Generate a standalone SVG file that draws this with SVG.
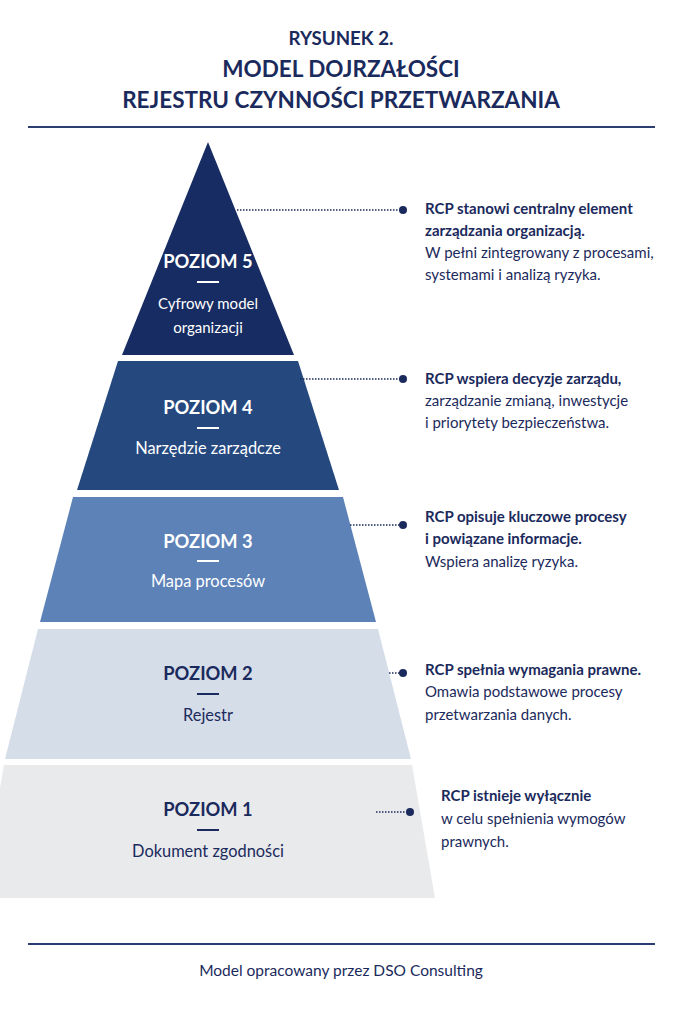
<svg xmlns="http://www.w3.org/2000/svg" width="683" height="1024" viewBox="0 0 683 1024">
<style>
text{font-family:Lato,"Open Sans","Liberation Sans",sans-serif;fill:#1b2a5c}
.t{font-weight:700;text-anchor:middle}
.h{font-weight:700;font-size:18.3px;text-anchor:middle}
.s{font-size:16.4px;text-anchor:middle}
.w{fill:#fff}
.d{font-size:15px}
.b{font-weight:700}
.conn{stroke:#1b2a5c;stroke-width:1.5;stroke-dasharray:1.5 1.5;fill:none}
.dot{fill:#1b2a5c}
.dash{stroke-width:2}
</style>
<rect width="683" height="1024" fill="#fff"/>
<g id="title">
<text class="t" x="341" y="45" font-size="18.7">RYSUNEK 2.</text>
<text class="t" x="341" y="77" font-size="22.5">MODEL DOJRZAŁOŚCI</text>
<text class="t" x="341" y="108" font-size="22.5">REJESTRU CZYNNOŚCI PRZETWARZANIA</text>
<line x1="28" y1="127" x2="655" y2="127" stroke="#2c3e70" stroke-width="2"/>
</g>
<g id="level5">
<polygon points="208,142 294,355 122,355" fill="#172c62"/>
<text class="h w" x="208" y="268">POZIOM 5</text>
<line class="dash" x1="197" y1="282" x2="219" y2="282" stroke="#fff"/>
<text class="w" x="208" y="309" font-size="15" text-anchor="middle">Cyfrowy model</text>
<text class="w" x="208" y="333" font-size="15" text-anchor="middle">organizacji</text>
</g>
<g id="level4">
<polygon points="118,361 298,361 339,490 77,490" fill="#25497f"/>
<text class="h w" x="208" y="414">POZIOM 4</text>
<line class="dash" x1="197" y1="428" x2="219" y2="428" stroke="#fff"/>
<text class="s w" x="208" y="454">Narzędzie zarządcze</text>
</g>
<g id="level3">
<polygon points="73,497 343,497 376,622 40,622" fill="#5c82b8"/>
<text class="h w" x="208" y="548">POZIOM 3</text>
<line class="dash" x1="197" y1="561" x2="219" y2="561" stroke="#fff"/>
<text class="s w" x="208" y="587">Mapa procesów</text>
</g>
<g id="level2">
<polygon points="38,629 378,629 411,759 5,759" fill="#d5dde9"/>
<text class="h" x="208" y="680" font-size="19">POZIOM 2</text>
<line class="dash" x1="197" y1="694" x2="219" y2="694" stroke="#1b2a5c"/>
<text class="s" x="208" y="721">Rejestr</text>
</g>
<g id="level1">
<polygon points="4,765 412,765 435,898 -19,898" fill="#e9eaec"/>
<text class="h" x="208" y="816" font-size="19.5">POZIOM 1</text>
<line class="dash" x1="197" y1="830" x2="219" y2="830" stroke="#1b2a5c"/>
<text class="s" x="208" y="857">Dokument zgodności</text>
</g>
<g id="connectors">
<line class="conn" x1="237" y1="210" x2="400" y2="210"/>
<circle class="dot" cx="403" cy="210" r="4"/>
<line class="conn" x1="300" y1="379" x2="400" y2="379"/>
<circle class="dot" cx="403" cy="379" r="4"/>
<line class="conn" x1="350" y1="525" x2="400" y2="525"/>
<circle class="dot" cx="403" cy="525" r="4"/>
<line class="conn" x1="389" y1="673" x2="400" y2="673"/>
<circle class="dot" cx="403" cy="673" r="4"/>
<line class="conn" x1="376" y1="812" x2="408" y2="812"/>
<circle class="dot" cx="410" cy="812" r="4"/>
</g>
<g id="desc5">
<text class="d b" x="425" y="214">RCP stanowi centralny element</text>
<text class="d b" x="425" y="236">zarządzania organizacją.</text>
<text class="d" x="425" y="258">W pełni zintegrowany z procesami,</text>
<text class="d" x="425" y="280">systemami i analizą ryzyka.</text>
</g>
<g id="desc4">
<text class="d b" x="425" y="384">RCP wspiera decyzje zarządu,</text>
<text class="d" x="425" y="406">zarządzanie zmianą, inwestycje</text>
<text class="d" x="425" y="428">i priorytety bezpieczeństwa.</text>
</g>
<g id="desc3">
<text class="d b" x="425" y="522">RCP opisuje kluczowe procesy</text>
<text class="d b" x="425" y="544">i powiązane informacje.</text>
<text class="d" x="425" y="567">Wspiera analizę ryzyka.</text>
</g>
<g id="desc2">
<text class="d b" x="425" y="675">RCP spełnia wymagania prawne.</text>
<text class="d" x="425" y="697">Omawia podstawowe procesy</text>
<text class="d" x="425" y="720">przetwarzania danych.</text>
</g>
<g id="desc1">
<text class="d b" x="441" y="801">RCP istnieje wyłącznie</text>
<text class="d" x="441" y="824">w celu spełnienia wymogów</text>
<text class="d" x="441" y="847">prawnych.</text>
</g>
<g id="footer">
<line x1="28" y1="944" x2="655" y2="944" stroke="#2c3e70" stroke-width="2"/>
<text x="341" y="976" font-size="15.5" text-anchor="middle">Model opracowany przez DSO Consulting</text>
</g>
</svg>
